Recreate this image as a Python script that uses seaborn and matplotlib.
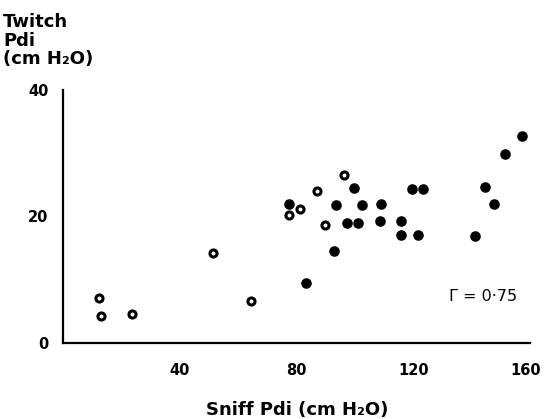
import matplotlib
matplotlib.use("Agg")
import pandas as pd
import matplotlib.pyplot as plt
import matplotlib.transforms as mtransforms
import seaborn as sns

# Sniff Pdi (x) and Twitch Pdi (y), cm H2O
open_sniff = [12.4, 13.0, 23.5, 51.3, 64.5, 77.4, 81.2, 87.1, 89.6, 96.4]
open_twitch = [7.1, 4.3, 4.6, 14.3, 6.7, 20.2, 21.2, 24.0, 18.7, 26.5]

filled_sniff = [157.2, 151.5, 99.6, 119.7, 123.3, 144.6, 77.5, 93.4, 102.6, 109.1,
                147.7, 97.4, 101.0, 108.6, 115.7, 115.7, 121.5, 141.3, 92.8, 83.2]
filled_twitch = [32.7, 29.9, 24.5, 24.4, 24.4, 24.7, 21.9, 21.8, 21.8, 22.0,
                 21.9, 19.0, 19.0, 19.3, 19.3, 17.0, 17.0, 16.9, 14.5, 9.5]

x_ticks = [40, 80, 120, 160]
y_ticks = [0, 20, 40]

open_df = pd.DataFrame({"Sniff": open_sniff, "Twitch": open_twitch})
filled_df = pd.DataFrame({"Sniff": filled_sniff, "Twitch": filled_twitch})

sns.set_style("white")
plt.rcParams["font.family"] = ["DejaVu Sans"]
plt.rcParams["text.color"] = "black"
plt.rcParams["xtick.color"] = "black"
plt.rcParams["ytick.color"] = "black"

fig = plt.figure(figsize=(5.44, 4.19), dpi=100)
ax = fig.add_axes([63 / 544, 1 - 343 / 419, (530 - 63) / 544, (343 - 90) / 419])

sns.scatterplot(data=filled_df, x="Sniff", y="Twitch", ax=ax, color="black",
                s=58, edgecolor="black", linewidth=0, zorder=3)
sns.scatterplot(data=open_df, x="Sniff", y="Twitch", ax=ax, facecolor="white",
                edgecolor="black", s=26, linewidth=2.2, zorder=4)

ax.set_xlim(0, 160)
ax.set_ylim(0, 40)
ax.set_xticks(x_ticks)
ax.set_yticks(y_ticks)
ax.set_xlabel("")
ax.set_ylabel("")
sns.despine(ax=ax)
for side in ["left", "bottom"]:
    ax.spines[side].set_linewidth(1.6)
    ax.spines[side].set_color("black")
ax.tick_params(axis="both", direction="out", length=6.5, width=1.4,
               color="black", labelsize=10.5, pad=4)
ax.tick_params(axis="x", pad=8)
ax.yaxis.get_major_ticks()[0].tick1line.set_visible(False)
for lab in ax.get_xticklabels() + ax.get_yticklabels():
    lab.set_fontweight("bold")

# nudge the last x label so it stays inside the figure
last = ax.xaxis.get_major_ticks()[-1].label1
last.set_transform(last.get_transform()
                   + mtransforms.ScaledTranslation(-3 / 72, 0, fig.dpi_scale_trans))

ax.text(144, 7.4, "Γ = 0·75", fontsize=11.5, ha="center", va="center")

fig.text(3 / 544, 1 - 13 / 419, "Twitch\nPdi\n(cm H₂O)", ha="left", va="top",
         fontsize=13, fontweight="bold", linespacing=1.05)
fig.text(297 / 544, 1 - 410 / 419, "Sniff Pdi (cm H₂O)", ha="center",
         va="center", fontsize=13, fontweight="bold")

fig.savefig("out.png", dpi=100)
